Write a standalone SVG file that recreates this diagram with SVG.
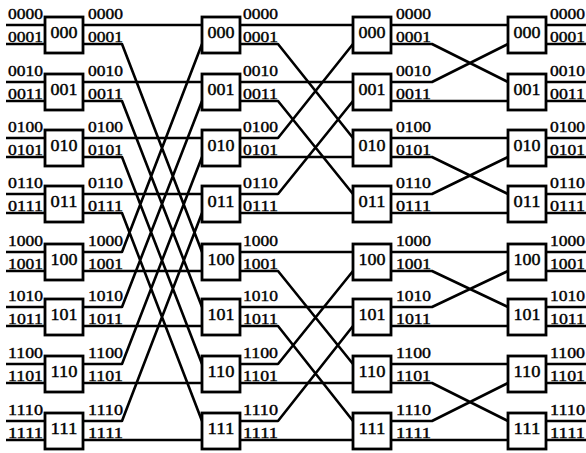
<svg xmlns="http://www.w3.org/2000/svg" width="586" height="453" viewBox="0 0 586 453">
<style>
.bg{fill:#fff}
.box rect{fill:#fff;stroke:#000;stroke-width:2.8}
.box text{font-family:"Liberation Serif","DejaVu Serif",serif;font-size:16px;fill:#000;stroke:#000;stroke-width:0.4;text-anchor:middle}
.wires path{fill:none;stroke:#000;stroke-width:2.6;stroke-linejoin:round}
.lbl text{font-family:"Liberation Serif","DejaVu Serif",serif;font-size:15px;fill:#000;stroke:#000;stroke-width:0.4}
</style>
<rect class="bg" x="0" y="0" width="586" height="453"/>
<g id="connectors" class="wires">
<path d="M6 25H45M6 44H45M6 82H45M6 101H45M6 138H45M6 157H45M6 194H45M6 213H45M6 252H45M6 271H45M6 307H45M6 326H45M6 364H45M6 383H45M6 421H45M6 440H45"/>
<path d="M83 25H202M83 82H202M83 138H202M83 194H202M83 271H202M83 326H202M83 383H202M83 440H202"/>
<path d="M83 44H122L202 252M83 101H122L202 307M83 157H122L202 364M83 213H122L202 421M83 252H122L202 44M83 307H122L202 101M83 364H122L202 157M83 421H122L202 213"/>
<path d="M240 25H353M240 82H353M240 157H353M240 213H353M240 252H353M240 307H353M240 383H353M240 440H353"/>
<path d="M240 44H278L353 138M240 138H278L353 44M240 101H278L353 194M240 194H278L353 101M240 271H278L353 364M240 364H278L353 271M240 326H278L353 421M240 421H278L353 326"/>
<path d="M391 25H508M391 101H508M391 138H508M391 213H508M391 252H508M391 326H508M391 364H508M391 440H508"/>
<path d="M391 44H432L508 82M391 82H432L508 44M391 157H432L508 194M391 194H432L508 157M391 271H432L508 307M391 307H432L508 271M391 383H432L508 421M391 421H432L508 383"/>
<path d="M546 25H586M546 44H586M546 82H586M546 101H586M546 138H586M546 157H586M546 194H586M546 213H586M546 252H586M546 271H586M546 307H586M546 326H586M546 364H586M546 383H586M546 421H586M546 440H586"/>
</g>
<g id="col1">
<g id="s1-000" class="box"><rect x="45" y="17" width="38" height="36"/><text x="64" y="38" textLength="27" lengthAdjust="spacingAndGlyphs">000</text></g>
<g id="s1-001" class="box"><rect x="45" y="74" width="38" height="36"/><text x="64" y="95" textLength="27" lengthAdjust="spacingAndGlyphs">001</text></g>
<g id="s1-010" class="box"><rect x="45" y="130" width="38" height="36"/><text x="64" y="151" textLength="27" lengthAdjust="spacingAndGlyphs">010</text></g>
<g id="s1-011" class="box"><rect x="45" y="186" width="38" height="36"/><text x="64" y="207" textLength="27" lengthAdjust="spacingAndGlyphs">011</text></g>
<g id="s1-100" class="box"><rect x="45" y="244" width="38" height="36"/><text x="64" y="265" textLength="27" lengthAdjust="spacingAndGlyphs">100</text></g>
<g id="s1-101" class="box"><rect x="45" y="299" width="38" height="36"/><text x="64" y="320" textLength="27" lengthAdjust="spacingAndGlyphs">101</text></g>
<g id="s1-110" class="box"><rect x="45" y="356" width="38" height="36"/><text x="64" y="377" textLength="27" lengthAdjust="spacingAndGlyphs">110</text></g>
<g id="s1-111" class="box"><rect x="45" y="413" width="38" height="36"/><text x="64" y="434" textLength="27" lengthAdjust="spacingAndGlyphs">111</text></g>
</g>
<g id="col2">
<g id="s2-000" class="box"><rect x="202" y="17" width="38" height="36"/><text x="221" y="38" textLength="27" lengthAdjust="spacingAndGlyphs">000</text></g>
<g id="s2-001" class="box"><rect x="202" y="74" width="38" height="36"/><text x="221" y="95" textLength="27" lengthAdjust="spacingAndGlyphs">001</text></g>
<g id="s2-010" class="box"><rect x="202" y="130" width="38" height="36"/><text x="221" y="151" textLength="27" lengthAdjust="spacingAndGlyphs">010</text></g>
<g id="s2-011" class="box"><rect x="202" y="186" width="38" height="36"/><text x="221" y="207" textLength="27" lengthAdjust="spacingAndGlyphs">011</text></g>
<g id="s2-100" class="box"><rect x="202" y="244" width="38" height="36"/><text x="221" y="265" textLength="27" lengthAdjust="spacingAndGlyphs">100</text></g>
<g id="s2-101" class="box"><rect x="202" y="299" width="38" height="36"/><text x="221" y="320" textLength="27" lengthAdjust="spacingAndGlyphs">101</text></g>
<g id="s2-110" class="box"><rect x="202" y="356" width="38" height="36"/><text x="221" y="377" textLength="27" lengthAdjust="spacingAndGlyphs">110</text></g>
<g id="s2-111" class="box"><rect x="202" y="413" width="38" height="36"/><text x="221" y="434" textLength="27" lengthAdjust="spacingAndGlyphs">111</text></g>
</g>
<g id="col3">
<g id="s3-000" class="box"><rect x="353" y="17" width="38" height="36"/><text x="372" y="38" textLength="27" lengthAdjust="spacingAndGlyphs">000</text></g>
<g id="s3-001" class="box"><rect x="353" y="74" width="38" height="36"/><text x="372" y="95" textLength="27" lengthAdjust="spacingAndGlyphs">001</text></g>
<g id="s3-010" class="box"><rect x="353" y="130" width="38" height="36"/><text x="372" y="151" textLength="27" lengthAdjust="spacingAndGlyphs">010</text></g>
<g id="s3-011" class="box"><rect x="353" y="186" width="38" height="36"/><text x="372" y="207" textLength="27" lengthAdjust="spacingAndGlyphs">011</text></g>
<g id="s3-100" class="box"><rect x="353" y="244" width="38" height="36"/><text x="372" y="265" textLength="27" lengthAdjust="spacingAndGlyphs">100</text></g>
<g id="s3-101" class="box"><rect x="353" y="299" width="38" height="36"/><text x="372" y="320" textLength="27" lengthAdjust="spacingAndGlyphs">101</text></g>
<g id="s3-110" class="box"><rect x="353" y="356" width="38" height="36"/><text x="372" y="377" textLength="27" lengthAdjust="spacingAndGlyphs">110</text></g>
<g id="s3-111" class="box"><rect x="353" y="413" width="38" height="36"/><text x="372" y="434" textLength="27" lengthAdjust="spacingAndGlyphs">111</text></g>
</g>
<g id="col4">
<g id="s4-000" class="box"><rect x="508" y="17" width="38" height="36"/><text x="527" y="38" textLength="27" lengthAdjust="spacingAndGlyphs">000</text></g>
<g id="s4-001" class="box"><rect x="508" y="74" width="38" height="36"/><text x="527" y="95" textLength="27" lengthAdjust="spacingAndGlyphs">001</text></g>
<g id="s4-010" class="box"><rect x="508" y="130" width="38" height="36"/><text x="527" y="151" textLength="27" lengthAdjust="spacingAndGlyphs">010</text></g>
<g id="s4-011" class="box"><rect x="508" y="186" width="38" height="36"/><text x="527" y="207" textLength="27" lengthAdjust="spacingAndGlyphs">011</text></g>
<g id="s4-100" class="box"><rect x="508" y="244" width="38" height="36"/><text x="527" y="265" textLength="27" lengthAdjust="spacingAndGlyphs">100</text></g>
<g id="s4-101" class="box"><rect x="508" y="299" width="38" height="36"/><text x="527" y="320" textLength="27" lengthAdjust="spacingAndGlyphs">101</text></g>
<g id="s4-110" class="box"><rect x="508" y="356" width="38" height="36"/><text x="527" y="377" textLength="27" lengthAdjust="spacingAndGlyphs">110</text></g>
<g id="s4-111" class="box"><rect x="508" y="413" width="38" height="36"/><text x="527" y="434" textLength="27" lengthAdjust="spacingAndGlyphs">111</text></g>
</g>
<g id="labels-in" class="lbl">
<text x="8" y="19" textLength="35" lengthAdjust="spacingAndGlyphs">0000</text>
<text x="8" y="42" textLength="35" lengthAdjust="spacingAndGlyphs">0001</text>
<text x="8" y="76" textLength="35" lengthAdjust="spacingAndGlyphs">0010</text>
<text x="8" y="99" textLength="35" lengthAdjust="spacingAndGlyphs">0011</text>
<text x="8" y="132" textLength="35" lengthAdjust="spacingAndGlyphs">0100</text>
<text x="8" y="155" textLength="35" lengthAdjust="spacingAndGlyphs">0101</text>
<text x="8" y="188" textLength="35" lengthAdjust="spacingAndGlyphs">0110</text>
<text x="8" y="211" textLength="35" lengthAdjust="spacingAndGlyphs">0111</text>
<text x="8" y="246" textLength="35" lengthAdjust="spacingAndGlyphs">1000</text>
<text x="8" y="269" textLength="35" lengthAdjust="spacingAndGlyphs">1001</text>
<text x="8" y="301" textLength="35" lengthAdjust="spacingAndGlyphs">1010</text>
<text x="8" y="324" textLength="35" lengthAdjust="spacingAndGlyphs">1011</text>
<text x="8" y="358" textLength="35" lengthAdjust="spacingAndGlyphs">1100</text>
<text x="8" y="381" textLength="35" lengthAdjust="spacingAndGlyphs">1101</text>
<text x="8" y="415" textLength="35" lengthAdjust="spacingAndGlyphs">1110</text>
<text x="8" y="438" textLength="35" lengthAdjust="spacingAndGlyphs">1111</text>
</g>
<g id="labels-s1" class="lbl">
<text x="88" y="19" textLength="35" lengthAdjust="spacingAndGlyphs">0000</text>
<text x="88" y="42" textLength="35" lengthAdjust="spacingAndGlyphs">0001</text>
<text x="88" y="76" textLength="35" lengthAdjust="spacingAndGlyphs">0010</text>
<text x="88" y="99" textLength="35" lengthAdjust="spacingAndGlyphs">0011</text>
<text x="88" y="132" textLength="35" lengthAdjust="spacingAndGlyphs">0100</text>
<text x="88" y="155" textLength="35" lengthAdjust="spacingAndGlyphs">0101</text>
<text x="88" y="188" textLength="35" lengthAdjust="spacingAndGlyphs">0110</text>
<text x="88" y="211" textLength="35" lengthAdjust="spacingAndGlyphs">0111</text>
<text x="88" y="246" textLength="35" lengthAdjust="spacingAndGlyphs">1000</text>
<text x="88" y="269" textLength="35" lengthAdjust="spacingAndGlyphs">1001</text>
<text x="88" y="301" textLength="35" lengthAdjust="spacingAndGlyphs">1010</text>
<text x="88" y="324" textLength="35" lengthAdjust="spacingAndGlyphs">1011</text>
<text x="88" y="358" textLength="35" lengthAdjust="spacingAndGlyphs">1100</text>
<text x="88" y="381" textLength="35" lengthAdjust="spacingAndGlyphs">1101</text>
<text x="88" y="415" textLength="35" lengthAdjust="spacingAndGlyphs">1110</text>
<text x="88" y="438" textLength="35" lengthAdjust="spacingAndGlyphs">1111</text>
</g>
<g id="labels-s2" class="lbl">
<text x="243" y="19" textLength="35" lengthAdjust="spacingAndGlyphs">0000</text>
<text x="243" y="42" textLength="35" lengthAdjust="spacingAndGlyphs">0001</text>
<text x="243" y="76" textLength="35" lengthAdjust="spacingAndGlyphs">0010</text>
<text x="243" y="99" textLength="35" lengthAdjust="spacingAndGlyphs">0011</text>
<text x="243" y="132" textLength="35" lengthAdjust="spacingAndGlyphs">0100</text>
<text x="243" y="155" textLength="35" lengthAdjust="spacingAndGlyphs">0101</text>
<text x="243" y="188" textLength="35" lengthAdjust="spacingAndGlyphs">0110</text>
<text x="243" y="211" textLength="35" lengthAdjust="spacingAndGlyphs">0111</text>
<text x="243" y="246" textLength="35" lengthAdjust="spacingAndGlyphs">1000</text>
<text x="243" y="269" textLength="35" lengthAdjust="spacingAndGlyphs">1001</text>
<text x="243" y="301" textLength="35" lengthAdjust="spacingAndGlyphs">1010</text>
<text x="243" y="324" textLength="35" lengthAdjust="spacingAndGlyphs">1011</text>
<text x="243" y="358" textLength="35" lengthAdjust="spacingAndGlyphs">1100</text>
<text x="243" y="381" textLength="35" lengthAdjust="spacingAndGlyphs">1101</text>
<text x="243" y="415" textLength="35" lengthAdjust="spacingAndGlyphs">1110</text>
<text x="243" y="438" textLength="35" lengthAdjust="spacingAndGlyphs">1111</text>
</g>
<g id="labels-s3" class="lbl">
<text x="396" y="19" textLength="35" lengthAdjust="spacingAndGlyphs">0000</text>
<text x="396" y="42" textLength="35" lengthAdjust="spacingAndGlyphs">0001</text>
<text x="396" y="76" textLength="35" lengthAdjust="spacingAndGlyphs">0010</text>
<text x="396" y="99" textLength="35" lengthAdjust="spacingAndGlyphs">0011</text>
<text x="396" y="132" textLength="35" lengthAdjust="spacingAndGlyphs">0100</text>
<text x="396" y="155" textLength="35" lengthAdjust="spacingAndGlyphs">0101</text>
<text x="396" y="188" textLength="35" lengthAdjust="spacingAndGlyphs">0110</text>
<text x="396" y="211" textLength="35" lengthAdjust="spacingAndGlyphs">0111</text>
<text x="396" y="246" textLength="35" lengthAdjust="spacingAndGlyphs">1000</text>
<text x="396" y="269" textLength="35" lengthAdjust="spacingAndGlyphs">1001</text>
<text x="396" y="301" textLength="35" lengthAdjust="spacingAndGlyphs">1010</text>
<text x="396" y="324" textLength="35" lengthAdjust="spacingAndGlyphs">1011</text>
<text x="396" y="358" textLength="35" lengthAdjust="spacingAndGlyphs">1100</text>
<text x="396" y="381" textLength="35" lengthAdjust="spacingAndGlyphs">1101</text>
<text x="396" y="415" textLength="35" lengthAdjust="spacingAndGlyphs">1110</text>
<text x="396" y="438" textLength="35" lengthAdjust="spacingAndGlyphs">1111</text>
</g>
<g id="labels-out" class="lbl">
<text x="550" y="19" textLength="35" lengthAdjust="spacingAndGlyphs">0000</text>
<text x="550" y="42" textLength="35" lengthAdjust="spacingAndGlyphs">0001</text>
<text x="550" y="76" textLength="35" lengthAdjust="spacingAndGlyphs">0010</text>
<text x="550" y="99" textLength="35" lengthAdjust="spacingAndGlyphs">0011</text>
<text x="550" y="132" textLength="35" lengthAdjust="spacingAndGlyphs">0100</text>
<text x="550" y="155" textLength="35" lengthAdjust="spacingAndGlyphs">0101</text>
<text x="550" y="188" textLength="35" lengthAdjust="spacingAndGlyphs">0110</text>
<text x="550" y="211" textLength="35" lengthAdjust="spacingAndGlyphs">0111</text>
<text x="550" y="246" textLength="35" lengthAdjust="spacingAndGlyphs">1000</text>
<text x="550" y="269" textLength="35" lengthAdjust="spacingAndGlyphs">1001</text>
<text x="550" y="301" textLength="35" lengthAdjust="spacingAndGlyphs">1010</text>
<text x="550" y="324" textLength="35" lengthAdjust="spacingAndGlyphs">1011</text>
<text x="550" y="358" textLength="35" lengthAdjust="spacingAndGlyphs">1100</text>
<text x="550" y="381" textLength="35" lengthAdjust="spacingAndGlyphs">1101</text>
<text x="550" y="415" textLength="35" lengthAdjust="spacingAndGlyphs">1110</text>
<text x="550" y="438" textLength="35" lengthAdjust="spacingAndGlyphs">1111</text>
</g>
</svg>
